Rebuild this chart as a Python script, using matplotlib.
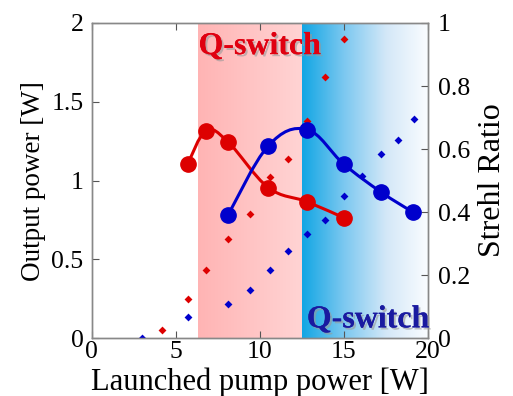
import numpy as np
import matplotlib
matplotlib.use("Agg")
import matplotlib.pyplot as plt
from matplotlib.colors import LinearSegmentedColormap
from matplotlib.path import Path
from matplotlib.patches import PathPatch
import matplotlib.patheffects as pe

plt.rcParams['font.family'] = ['Liberation Serif', 'DejaVu Serif']

# Output power (left axis), diamonds
red_pump = [4.2, 5.7, 6.8, 8.1, 9.4, 10.6, 11.7, 12.8, 13.9, 15.0]
red_power = [0.055, 0.25, 0.43, 0.63, 0.79, 1.02, 1.14, 1.38, 1.655, 1.90]
blue_pump = [3.0, 5.7, 8.1, 9.4, 10.6, 11.7, 12.8, 13.9, 15.0, 16.1, 17.2, 18.2, 19.2]
blue_power = [0.0, 0.135, 0.22, 0.305, 0.43, 0.555, 0.66, 0.75, 0.90, 1.03, 1.166, 1.257, 1.39]

# Strehl ratio (right axis), circles
red_s_pump = [5.7, 6.8, 8.1, 10.5, 12.8, 15.0]
red_strehl = [0.552, 0.658, 0.623, 0.478, 0.433, 0.382]
blue_s_pump = [8.1, 10.5, 12.8, 15.0, 17.2, 19.1]
blue_strehl = [0.39, 0.61, 0.662, 0.552, 0.464, 0.40]

red_region = (6.3, 12.5)
blue_region = (12.5, 20.0)

RED = '#dd0000'
BLUE = '#0000cc'

fig = plt.figure(figsize=(5.13, 3.96), dpi=100)
ax = fig.add_axes([0.179, 0.146, 0.655, 0.796])

# gradient backgrounds
grad = np.linspace(0, 1, 256).reshape(1, -1)
cm_red = LinearSegmentedColormap.from_list('r', ['#ffb4b4', '#ffd4d4'])
cm_blue = LinearSegmentedColormap.from_list('b', ['#12a6e4', '#7cc8f0', '#d4e8f8', '#fbfdff'])
ax.imshow(grad, cmap=cm_red, extent=[red_region[0], red_region[1], 0, 2], aspect='auto', zorder=0)
ax.imshow(grad, cmap=cm_blue, extent=[blue_region[0], blue_region[1], 0, 2], aspect='auto', zorder=0)
ax.set_xlim(0, 20)
ax.set_ylim(0, 2)

ax.scatter(red_pump, red_power, marker='D', s=16, color=RED, zorder=3, linewidths=0)
ax.scatter(blue_pump, blue_power, marker='D', s=16, color=BLUE, zorder=3, linewidths=0)

ax2 = ax.twinx()
ax2.set_ylim(0, 1)


def smooth_path(xs, ys, t=0.18):
    pts = np.column_stack([xs, ys])
    verts = [pts[0]]
    codes = [Path.MOVETO]
    n = len(pts)
    for i in range(n - 1):
        p0 = pts[i - 1] if i > 0 else pts[i]
        p1 = pts[i]
        p2 = pts[i + 1]
        p3 = pts[i + 2] if i + 2 < n else pts[i + 1]
        c1 = p1 + (p2 - p0) * t
        c2 = p2 - (p3 - p1) * t
        verts += [c1, c2, p2]
        codes += [Path.CURVE4] * 3
    return Path(verts, codes)


for xs, ys, c in [(red_s_pump, red_strehl, RED), (blue_s_pump, blue_strehl, BLUE)]:
    ax2.add_patch(PathPatch(smooth_path(xs, ys), facecolor='none', edgecolor=c, lw=2.2, zorder=4))
    ax2.plot(xs, ys, 'o', ms=11, color=c, zorder=5)

for a in (ax, ax2):
    for s in a.spines.values():
        s.set_color('#888888')
        s.set_linewidth(1.0)

ax.set_xticks([0, 5, 10, 15, 20])
ax.set_yticks([0, 0.5, 1, 1.5, 2])
ax.set_yticklabels(['0', '0.5', '1', '1.5', '2'])
ax2.set_yticks([0, 0.2, 0.4, 0.6, 0.8, 1])
ax2.set_yticklabels(['0', '0.2', '0.4', '0.6', '0.8', '1'])
ax.tick_params(axis='x', direction='in', labelsize=18.5, length=5, color='#555555', top=True, pad=2)
ax.tick_params(axis='y', direction='in', labelsize=18.5, length=5, color='#555555', pad=6)
ax2.tick_params(axis='y', direction='in', labelsize=18.5, length=5, color='#555555', pad=7)

ax.set_xlabel('Launched pump power [W]', fontsize=22, labelpad=3)
ax.set_ylabel('Output power [W]', fontsize=19.5, labelpad=4)
ax2.set_ylabel('Strehl Ratio', fontsize=23, labelpad=6)

shadow = [pe.withSimplePatchShadow(offset=(1.5, -1.5), shadow_rgbFace='#999999', alpha=0.6), pe.Normal()]
ax2.text(10.0, 0.925, 'Q-switch', color='#e00010', fontsize=23, fontweight='bold',
         ha='center', va='center', zorder=6, path_effects=shadow)
ax2.text(16.45, 0.058, 'Q-switch', color='#1a1aa0', fontsize=23, fontweight='bold',
         ha='center', va='center', zorder=6, path_effects=shadow)

fig.savefig('out.png', dpi=100)
